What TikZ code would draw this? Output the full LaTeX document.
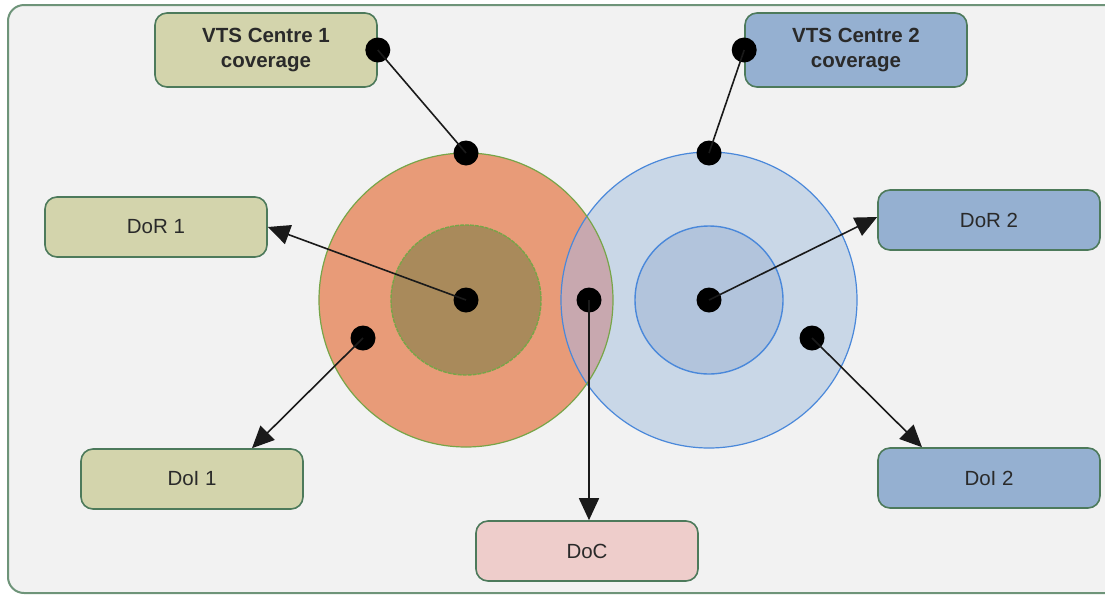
\documentclass[tikz,border=0pt]{standalone}
\usepackage{fontspec}
\setmainfont{Liberation Sans}
\usetikzlibrary{arrows.meta,calc}
\definecolor{framefill}{HTML}{F2F2F2}
\definecolor{framedraw}{HTML}{6E9479}
\definecolor{olivefill}{HTML}{D3D4AC}
\definecolor{bluefill}{HTML}{95B0D1}
\definecolor{docfill}{HTML}{EECDCB}
\definecolor{boxdraw}{HTML}{4D7A5B}
\definecolor{orangefill}{HTML}{E89B78}
\definecolor{brownfill}{HTML}{A98A5B}
\definecolor{greendraw}{HTML}{77A548}
\definecolor{lightblue}{HTML}{C9D7E7}
\definecolor{midblue}{HTML}{B2C4DC}
\definecolor{bluedraw}{HTML}{4A88DA}
\definecolor{lensfill}{HTML}{C8A8AF}
\definecolor{txt}{HTML}{2A2A2A}
\definecolor{linec}{HTML}{1A1A1A}
\tikzset{
  labelbox/.style={draw=boxdraw, line width=1.6pt, rounded corners=12pt, minimum width=222pt, minimum height=60pt, inner sep=0pt, align=center, text=txt, font=\fontsize{20.5}{25}\selectfont},
  vtsbox/.style={labelbox, minimum height=74pt, font=\fontsize{20.5}{25}\selectfont\bfseries},
  dot/.style={circle, fill=black, inner sep=0pt, minimum size=25pt},
  conn/.style={draw=linec, line width=1.6pt},
  arr/.style={conn, -{Triangle[length=22pt,width=20pt]}},
}
\begin{document}
\begin{tikzpicture}[x=1pt,y=-1pt]
\useasboundingbox (0,0) rectangle (1105,595);
\begin{scope}
  \clip (0,0) rectangle (1105,595);
  \draw[draw=framedraw, fill=framefill, line width=2pt, rounded corners=16pt] (8,5) rectangle (1140,593);
\end{scope}
% big circles
\node[circle, fill=orangefill, minimum size=294pt, inner sep=0pt] (c1) at (466,300) {};
\node[circle, fill=lightblue, minimum size=296pt, inner sep=0pt] (c2) at (709,300) {};
\begin{scope}
  \clip (466,300) circle[radius=147pt];
  \fill[lensfill] (709,300) circle[radius=148pt];
\end{scope}
\draw[bluedraw, line width=1.2pt] (709,300) circle[radius=148pt];
\draw[greendraw, line width=1.2pt] (466,300) circle[radius=147pt];
% inner circles
\node[circle, fill=brownfill, draw=greendraw, line width=1.4pt, dash pattern=on 4pt off 1pt, minimum size=150pt, inner sep=0pt] (i1) at (466,300) {};
\node[circle, fill=midblue, draw=bluedraw, line width=1.4pt, minimum size=148pt, inner sep=0pt] (i2) at (709,300) {};
% boxes
\node[vtsbox, fill=olivefill] (vts1) at (266,50) {VTS Centre 1\\coverage};
\node[vtsbox, fill=bluefill] (vts2) at (856,50) {VTS Centre 2\\coverage};
\node[labelbox, fill=olivefill] (dor1) at (156,227) {DoR 1};
\node[labelbox, fill=bluefill] (dor2) at (989,220) {DoR 2};
\node[labelbox, fill=olivefill] (doi1) at (192,479) {DoI 1};
\node[labelbox, fill=bluefill] (doi2) at (989,478) {DoI 2};
\node[labelbox, fill=docfill] (doc) at (587,551) {DoC};
% dots
\node[dot] (p1) at (vts1.east) {};
\node[dot] (p2) at (466,153) {};
\node[dot] (p3) at (vts2.west) {};
\node[dot] (p4) at (709,153) {};
\node[dot] (p5) at (466,300) {};
\node[dot] (p6) at (709,300) {};
\node[dot] (p7) at (589,300) {};
\node[dot] (p8) at (363,338) {};
\node[dot] (p9) at (812,338) {};
% connectors
\draw[conn] (p1.center) -- (p2.center);
\draw[conn] (p3.center) -- (p4.center);
\draw[arr] (p5.center) -- (dor1.east);
\draw[arr] (p6.center) -- ([yshift=3pt]dor2.west);
\draw[arr] (p7.center) -- ([xshift=2pt]doc.north);
\draw[arr] (p8.center) -- ([xshift=60pt]doi1.north);
\draw[arr] (p9.center) -- ([xshift=-67pt]doi2.north);
\end{tikzpicture}
\end{document}
